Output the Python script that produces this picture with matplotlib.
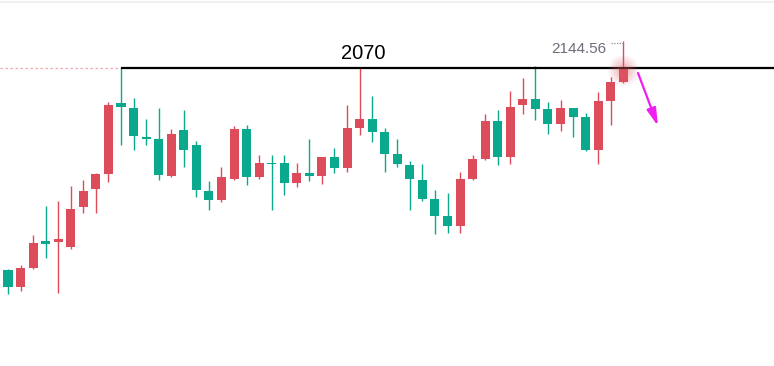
import numpy as np
import matplotlib
matplotlib.use("Agg")
import matplotlib.pyplot as plt
from matplotlib.lines import Line2D

# monthly candles (open / high / low / close)
opens = [1513.9, 1466.1, 1520.2, 1593.1, 1590.3, 1578.1, 1686.9, 1737.4, 1779.7, 1975.6,
         1961.8, 1881.8, 1875.4, 1774.1, 1900.3, 1858.9, 1731.9, 1707.1, 1765.0, 1903.0,
         1769.7, 1810.0, 1810.0, 1754.8, 1782.4, 1773.3, 1826.6, 1796.3, 1906.6, 1930.6,
         1893.9, 1834.0, 1802.8, 1762.3, 1709.8, 1662.9, 1635.3, 1765.0, 1820.2, 1924.3,
         1824.9, 1969.3, 1985.8, 1958.2, 1916.8, 1961.8, 1936.9, 1845.1, 1980.3, 2031.9]
highs = [1516.6, 1526.8, 1610.5, 1689.7, 1703.5, 1745.7, 1762.3, 1781.6, 1978.9, 2070.0,
         1989.4, 1930.6, 1961.8, 1903.0, 1955.5, 1869.9, 1759.5, 1796.8, 1911.3, 1914.1,
         1831.3, 1831.3, 1831.3, 1810.0, 1875.4, 1826.6, 1851.4, 1969.3, 2070.0, 1994.1,
         1906.6, 1875.4, 1814.7, 1806.4, 1734.7, 1727.2, 1785.2, 1831.3, 1944.4, 1955.5,
         2007.9, 2044.6, 2076.9, 1978.4, 1983.1, 1961.8, 1948.0, 2004.3, 2047.4, 2144.56]
lows = [1447.6, 1455.1, 1516.6, 1547.8, 1451.2, 1572.7, 1670.4, 1670.4, 1755.9, 1858.9,
        1845.1, 1858.9, 1762.3, 1771.4, 1799.0, 1716.2, 1679.5, 1702.4, 1763.0, 1748.5,
        1765.0, 1679.5, 1720.9, 1743.8, 1759.5, 1751.2, 1780.7, 1785.2, 1886.5, 1868.0,
        1785.2, 1799.0, 1679.5, 1705.1, 1613.2, 1616.8, 1616.8, 1762.3, 1818.0, 1803.7,
        1807.3, 1944.4, 1927.9, 1889.2, 1898.3, 1881.8, 1843.0, 1806.4, 1914.1, 2029.1]
closes = [1466.1, 1520.2, 1589.2, 1586.4, 1599.4, 1682.2, 1731.1, 1778.8, 1969.3, 1962.9,
          1883.7, 1876.3, 1776.1, 1889.2, 1845.1, 1734.7, 1707.1, 1769.7, 1903.0, 1769.7,
          1810.0, 1806.4, 1754.8, 1782.4, 1773.3, 1826.6, 1796.3, 1906.6, 1930.6, 1893.9,
          1834.0, 1806.4, 1765.0, 1709.8, 1662.9, 1635.3, 1765.0, 1820.2, 1924.3, 1824.9,
          1964.6, 1985.8, 1958.2, 1916.8, 1961.8, 1936.9, 1845.1, 1980.3, 2031.9, 2068.6]

level = 2070          # resistance line
level_start = 9       # candle where the line begins
level_label = "2070"

UP = "#dc4c5b"
DOWN = "#0aa98d"

o = np.array(opens)
h = np.array(highs)
l = np.array(lows)
c = np.array(closes)
x = np.arange(len(o))
colors = np.where(c >= o, UP, DOWN)

fig = plt.figure(figsize=(7.74, 3.66), dpi=100)
ax = fig.add_axes([0, 0, 1, 1])
ax.set_xlim(-0.637, 61.0)
ax.set_ylim(1248.9, 2259.06)
ax.axis("off")

# wicks and bodies
ax.vlines(x, l, h, colors=colors, lw=1.0, zorder=2)
body_lo = np.minimum(o, c)
body_h = np.maximum(np.abs(c - o), 4.0)
ax.bar(x, body_h, bottom=body_lo, width=0.72, color=colors, lw=0, zorder=3)

# level line
ax.hlines(level, -0.637, level_start, colors="#f2a6ae", lw=0.9,
          linestyles=(0, (2, 2)), zorder=1)
ax.hlines(level, level_start, 61.0, colors="black", lw=1.6, zorder=4)
ax.annotate(level_label, xy=(28.27, level), xytext=(0, 6.5), textcoords="offset points",
            ha="center", va="baseline", fontsize=14.5, family="Liberation Sans",
            color="black")

# last high marker
last = len(o) - 1
ax.plot([last - 1.0, last], [h[last] - 3, h[last] - 3], ls=(0, (1, 1.2)),
        color="#8a8d96", lw=0.9, zorder=4)
ax.annotate(f"{h[last]:.2f}", xy=(last, h[last]), xytext=(-12.5, -8),
            textcoords="offset points", ha="right", va="baseline", fontsize=11,
            family="Liberation Sans", color="#6b6e78")

# glow on the last candle
for s, a in [(480, 0.08), (320, 0.1), (190, 0.12), (90, 0.14)]:
    ax.scatter([last], [c[last] - 4], s=s, color="#e0606e", alpha=a, lw=0, zorder=5)

# magenta arrow
ax.annotate("", xy=(51.76, 1911.3), xytext=(50.17, 2057.6),
            arrowprops=dict(arrowstyle="-|>,head_width=0.2,head_length=0.75",
                            color="#f01ef0", lw=1.6, mutation_scale=14,
                            shrinkA=0, shrinkB=0))

# faint top border
fig.add_artist(Line2D([0, 1], [0.994, 0.994], color="#ececec", lw=1.2))

fig.savefig("out.png", dpi=100)
